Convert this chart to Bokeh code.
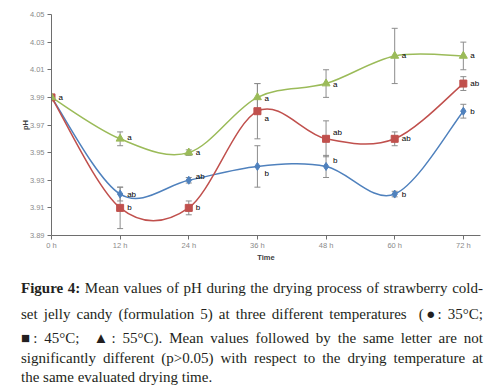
import numpy as np
from bokeh.plotting import figure
from bokeh.models import (ColumnDataSource, Whisker, TeeHead, FixedTicker, Div,
                          Range1d, PrintfTickFormatter)
from bokeh.layouts import column
from bokeh.embed import file_html
from bokeh.resources import INLINE
from bokeh.core.properties import value

# ---------------- data ----------------
hours = [0, 12, 24, 36, 48, 60, 72]
tick_labels = ["0 h", "12 h", "24 h", "36 h", "48 h", "60 h", "72 h"]
y_ticks = [3.89, 3.91, 3.93, 3.95, 3.97, 3.99, 4.01, 4.03, 4.05]

ph35 = [3.99, 3.92, 3.93, 3.94, 3.94, 3.92, 3.98]
ph45 = [3.99, 3.91, 3.91, 3.98, 3.96, 3.96, 4.00]
ph55 = [3.99, 3.96, 3.95, 3.99, 4.00, 4.02, 4.02]

err35 = [0.002, 0.005, 0.002, 0.015, 0.008, 0.002, 0.005]
err45 = [0.002, 0.015, 0.005, 0.020, 0.013, 0.005, 0.005]
err55 = [0.002, 0.005, 0.002, 0.010, 0.010, 0.020, 0.010]

lab35 = ["", "ab", "ab", "b", "b", "b", "b"]
lab45 = ["a", "b", "b", "a", "ab", "ab", "ab"]
lab55 = ["", "a", "a", "a", "a", "a", "a"]

# label pixel offsets (style)
dy35 = [0, 0, -4, 7, -6, 0, 0]
dy45 = [0, 0, 0, 7, -6, 0, 0]
dy55 = [0, -1, 0, 1, 1, 0, 0]

BLUE = "#4F81BD"
RED = "#C0504D"
GREEN = "#9BBB59"
AXIS = "#6e6e6e"
TICKTXT = "#8a8a8a"
ERR = "#8c8c8c"

p = figure(width=484, height=270, x_range=Range1d(0, 75), y_range=Range1d(3.89, 4.05),
           output_backend="svg", toolbar_location=None,
           min_border_left=51, min_border_right=4, min_border_top=14, min_border_bottom=35)
p.grid.visible = False
p.outline_line_color = None
p.background_fill_color = "white"
p.border_fill_color = "white"

p.xaxis.ticker = FixedTicker(ticks=hours)
p.xaxis.major_label_overrides = {h: t for h, t in zip(hours, tick_labels)}
p.yaxis.ticker = FixedTicker(ticks=y_ticks)
p.yaxis.formatter = PrintfTickFormatter(format="%.2f")
for ax in (p.xaxis, p.yaxis):
    ax.axis_line_color = AXIS
    ax.axis_line_width = 1
    ax.major_tick_line_color = AXIS
    ax.major_tick_out = 4
    ax.major_tick_in = 0
    ax.minor_tick_line_color = None
    ax.major_label_text_font = "Liberation Sans"
    ax.major_label_text_font_size = "7.5px"
    ax.major_label_text_color = TICKTXT
    ax.axis_label_text_font = "Liberation Sans"
    ax.axis_label_text_font_size = "7.5px"
    ax.axis_label_text_font_style = "bold"
    ax.axis_label_text_color = "#404040"
p.xaxis.axis_label = "Time"
p.yaxis.axis_label = "pH"
p.xaxis.major_label_standoff = 1
p.xaxis.axis_label_standoff = 0
p.yaxis.major_label_standoff = 3
p.yaxis.axis_label_standoff = -3


def smooth(xs, ys):
    xs = np.asarray(xs, float)
    ys = np.asarray(ys, float)
    n = len(xs)
    x0, y0, x1, y1, cx0, cy0, cx1, cy1 = ([] for _ in range(8))
    for i in range(n - 1):
        pm = max(i - 1, 0)
        pp = min(i + 2, n - 1)
        x0.append(xs[i]); y0.append(ys[i])
        x1.append(xs[i + 1]); y1.append(ys[i + 1])
        cx0.append(xs[i] + (xs[i + 1] - xs[pm]) / 6)
        cy0.append(ys[i] + (ys[i + 1] - ys[pm]) / 6)
        cx1.append(xs[i + 1] - (xs[pp] - xs[i]) / 6)
        cy1.append(ys[i + 1] - (ys[pp] - ys[i]) / 6)
    return dict(x0=x0, y0=y0, x1=x1, y1=y1, cx0=cx0, cy0=cy0, cx1=cx1, cy1=cy1)


series = [
    (ph35, err35, lab35, dy35, BLUE, "diamond", 8),
    (ph45, err45, lab45, dy45, RED, "square", 7),
    (ph55, err55, lab55, dy55, GREEN, "triangle", 8),
]

# error bars first
for ys, errs, labs, dys, col, mk, sz in series:
    src = ColumnDataSource(dict(x=hours, upper=[y + e for y, e in zip(ys, errs)],
                                lower=[y - e for y, e in zip(ys, errs)]))
    w = Whisker(base="x", upper="upper", lower="lower", source=src,
                line_color=ERR, line_width=1,
                upper_head=TeeHead(size=6, line_color=ERR, line_width=1),
                lower_head=TeeHead(size=6, line_color=ERR, line_width=1))
    p.add_layout(w)

# curves
for ys, errs, labs, dys, col, mk, sz in series:
    b = smooth(hours, ys)
    p.bezier(source=ColumnDataSource(b), x0="x0", y0="y0", x1="x1", y1="y1",
             cx0="cx0", cy0="cy0", cx1="cx1", cy1="cy1", line_color=col, line_width=1.5)

# markers + letters
for ys, errs, labs, dys, col, mk, sz in series:
    src = ColumnDataSource(dict(x=hours, y=ys, lab=labs, dy=dys))
    p.scatter("x", "y", source=src, marker=mk, size=sz, fill_color=col, line_color=col)
    p.text("x", "y", text="lab", source=src, x_offset=7, y_offset="dy",
           text_font=value("Liberation Sans"), text_font_size="8px",
           text_baseline="middle", text_align="left", text_color="black")

caption_lines = [
    "<b>Figure 4:</b> Mean values of pH during the drying process of strawberry cold-",
    "set jelly candy (formulation 5) at three different temperatures&nbsp; (&#9679;: 35&deg;C;",
    "&#9632;: 45&deg;C;&nbsp; &#9650;: 55&deg;C). Mean values followed by the same letter are not",
    "significantly different (p&gt;0.05) with respect to the drying temperature at",
    "the same evaluated drying time.",
]
line_heights = [26, 27, 21, 19, 18]
html = "<div style=\"font-family:'Liberation Serif'; font-size:15px; color:#231f20; width:462px; margin-left:16px; box-sizing:content-box;\">"
for i, (ln, lh) in enumerate(zip(caption_lines, line_heights)):
    last = i == len(caption_lines) - 1
    align = "text-align:left;" if last else "text-align:justify; text-align-last:justify;"
    html += f"<div style=\"{align} line-height:{lh}px; white-space:nowrap;\">{ln}</div>"
html += "</div>"
cap = Div(text=html, width=484, height=105)

layout = column(p, cap, spacing=0)
open("out.html", "w").write(file_html(layout, INLINE))
